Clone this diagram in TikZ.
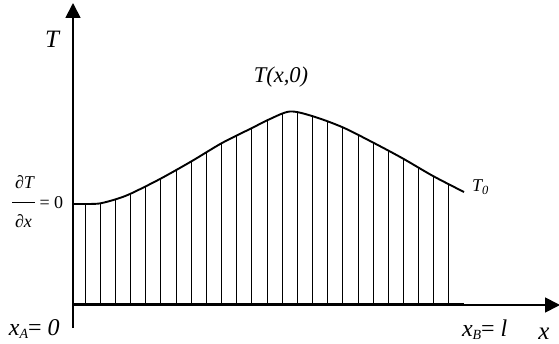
\documentclass[tikz,border=0pt]{standalone}
\usepackage{fontspec}
\setmainfont{Liberation Serif}
\usetikzlibrary{arrows.meta}
\begin{document}
\begin{tikzpicture}[x=1pt,y=-1pt,
  axisline/.style={line width=1.8pt,-{Triangle[length=15pt,width=15pt]}},
  hatchline/.style={line width=0.7pt},
  curveline/.style={line width=1.9pt},
  baseline/.style={line width=3pt},
  fracbar/.style={line width=0.8pt},
  lbl/.style={inner sep=0pt, outer sep=0pt}]
\useasboundingbox (0,0) rectangle (559,344);
\coordinate (O) at (73,305);
\coordinate (ybot) at (73,328);
\coordinate (ytop) at (73,3);
\coordinate (xright) at (560,305);
\coordinate (B) at (464,305);
\begin{scope}
  \clip (73,306) -- plot[smooth] coordinates {(73,204) (88,204) (100,203.4) (115,199.5) (130,194) (160,179) (192,161) (222,143) (252,128) (270,119) (290,111.5) (312,116) (342,127) (372,142) (402,158) (433,176) (464,192)} -- (464,306) -- cycle;
  \foreach \i in {0,...,25} \draw[hatchline] ({85+\i*15.16},100) -- ({85+\i*15.16},306);
\end{scope}
\draw[curveline] plot[smooth] coordinates {(73,204) (88,204) (100,203.4) (115,199.5) (130,194) (160,179) (192,161) (222,143) (252,128) (270,119) (290,111.5) (312,116) (342,127) (372,142) (402,158) (433,176) (464,192)};
\draw[baseline] (O) -- (B);
\draw[axisline] (ybot) -- (ytop);
\draw[axisline] (O) -- (xright);
\node[lbl] (Tlab) at (52,39) {\fontsize{25}{28}\selectfont\itshape T};
\node[lbl] (Tx0) at (281,77) {\fontsize{22.5}{26}\selectfont\itshape T(x,0)};
\node[lbl, anchor=base west] (T0) at (472,192) {\fontsize{18}{20}\selectfont\itshape T\raisebox{-2.5pt}{\fontsize{12.5}{14}\selectfont 0}};
\node[lbl, anchor=base] (dT) at (24.5,189) {\fontsize{18}{20}\selectfont ∂\itshape T};
\coordinate (barL) at (12,202);
\coordinate (barR) at (35,202);
\draw[fracbar] (barL) -- (barR);
\node[lbl, anchor=base] (dx) at (23.5,228) {\fontsize{18}{20}\selectfont ∂\itshape x};
\node[lbl, anchor=base west] (eq0) at (39.5,208.5) {\fontsize{18}{20}\selectfont = 0};
\node[lbl, anchor=base west] (xA) at (9,335) {\fontsize{24}{27}\selectfont\itshape x\raisebox{-3.5pt}{\fontsize{14}{16}\selectfont A}\upshape=\itshape\ 0};
\node[lbl, anchor=base west] (xB) at (462,336) {\fontsize{24}{27}\selectfont\itshape x\raisebox{-3.5pt}{\fontsize{14}{16}\selectfont B}\upshape=\itshape\ l};
\node[lbl, anchor=base] (xlab) at (544,339) {\fontsize{25}{28}\selectfont\itshape x};
\end{tikzpicture}
\end{document}
